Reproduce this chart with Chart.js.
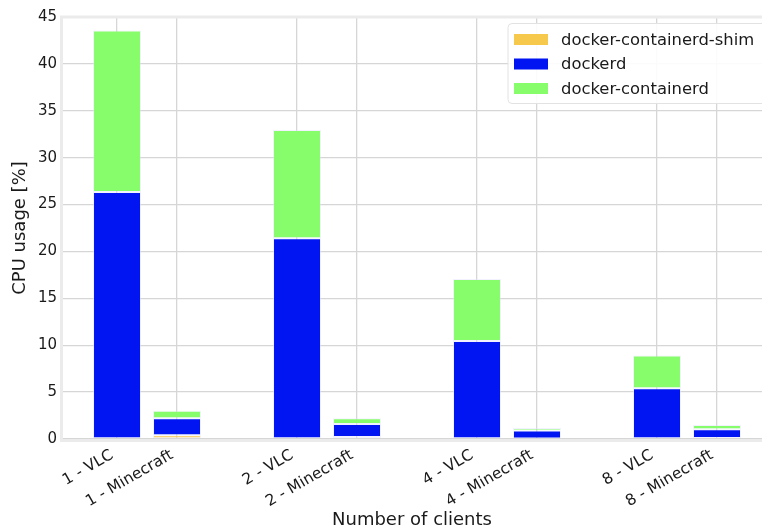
<!DOCTYPE html>
<html>
<head>
<meta charset="utf-8">
<script src="https://cdn.jsdelivr.net/npm/chart.js@4.4.1/dist/chart.umd.min.js"></script>
<style>
  html, body { margin: 0; padding: 0; background: #fff; }
  #wrap { width: 762px; height: 531px; }
</style>
</head>
<body>
<div id="wrap"><canvas id="chartCpu" width="762" height="531"></canvas></div>
<script>
const clientCounts = [1, 2, 4, 8];
const workloads = ["VLC", "Minecraft"];
const categories = ["1 - VLC", "1 - Minecraft", "2 - VLC", "2 - Minecraft",
                    "4 - VLC", "4 - Minecraft", "8 - VLC", "8 - Minecraft"];

// CPU usage [%] per process
const shimUsage       = [0.0, 0.4, 0.0, 0.2, 0.0, 0.05, 0.0, 0.1];
const dockerdUsage    = [26.35, 1.8, 21.4, 1.4, 10.45, 0.85, 5.4, 0.95];
const containerdUsage = [17.2, 0.8, 11.55, 0.6, 6.6, 0.27, 3.5, 0.45];

const yTicks = [0, 5, 10, 15, 20, 25, 30, 35, 40, 45];

// each client group takes two slots plus one empty slot as spacer
const posiciones = [];
clientCounts.forEach((c, g) => {
  workloads.forEach((w, i) => posiciones.push(g * 3 + i));
});

const FONT = "'DejaVu Sans', sans-serif";

function serie(valores) {
  return valores.map((v, i) => ({ x: posiciones[i], y: v }));
}

const datasets = [
  { label: "docker-containerd-shim", data: serie(shimUsage), backgroundColor: "#f6c84b" },
  { label: "dockerd", data: serie(dockerdUsage), backgroundColor: "#0015f2" },
  { label: "docker-containerd", data: serie(containerdUsage), backgroundColor: "#87fd6b" },
].map((d) => ({
  ...d,
  borderColor: "rgba(225,225,255,0.45)",
  borderWidth: 1,
  borderSkipped: false,
  barPercentage: 0.8,
  categoryPercentage: 1.0,
}));

// light frame around the plot area, drawn over the grid
const marco = {
  id: "marco",
  beforeDatasetsDraw(chart) {
    const { ctx, chartArea: a } = chart;
    ctx.save();
    ctx.strokeStyle = "#ebebeb";
    ctx.lineWidth = 3;
    ctx.strokeRect(a.left - 0.5, a.top, a.right - a.left + 2, a.bottom - a.top + 1.5);
    ctx.restore();
  },
};

// boxed legend in the upper right corner of the plot
const leyenda = {
  id: "leyenda",
  afterDraw(chart) {
    const ctx = chart.ctx;
    const x0 = 508, y0 = 23.5, w = 270, h = 80;
    ctx.save();
    ctx.beginPath();
    ctx.roundRect(x0, y0, w, h, 4);
    ctx.fillStyle = "rgba(255,255,255,0.9)";
    ctx.fill();
    ctx.strokeStyle = "#e2e2e2";
    ctx.lineWidth = 1;
    ctx.stroke();
    ctx.font = "16.4px " + FONT;
    ctx.textBaseline = "middle";
    chart.data.datasets.forEach((d, i) => {
      const y = 39.5 + i * 24.5;
      ctx.fillStyle = d.backgroundColor;
      ctx.fillRect(514, y - 5.5, 34, 11);
      ctx.fillStyle = "#1a1a1a";
      ctx.fillText(d.label, 561, y + 1);
    });
    ctx.restore();
  },
};

new Chart(document.getElementById("chartCpu").getContext("2d"), {
  type: "bar",
  data: { datasets },
  plugins: [marco, leyenda],
  options: {
    responsive: false,
    animation: false,
    layout: { padding: { top: 17, right: 0, left: 0, bottom: 0 } },
    plugins: { legend: { display: false }, tooltip: { enabled: false } },
    scales: {
      x: {
        type: "linear",
        stacked: true,
        min: -0.917,
        max: 10.75,
        offset: false,
        afterBuildTicks: (scale) => {
          scale.ticks = posiciones.map((p) => ({ value: p }));
        },
        afterFit: (scale) => { scale.height = 92; },
        grid: { color: "#d6d6d6", lineWidth: 1.3, offset: false, drawTicks: false },
        border: { display: false },
        ticks: {
          autoSkip: false,
          minRotation: 30,
          maxRotation: 30,
          padding: 7,
          labelOffset: -5,
          color: "#1a1a1a",
          font: { family: FONT, size: 15.5 },
          callback: (v) => categories[posiciones.indexOf(v)] ?? "",
        },
        title: {
          display: true,
          text: "Number of clients",
          color: "#1a1a1a",
          font: { family: FONT, size: 18 },
          padding: { top: 0, bottom: 0 },
        },
      },
      y: {
        stacked: true,
        min: 0,
        max: 45,
        afterBuildTicks: (scale) => {
          scale.ticks = yTicks.map((v) => ({ value: v }));
        },
        afterFit: (scale) => { scale.width = 62; },
        grid: { color: "#d6d6d6", lineWidth: 1.3, drawTicks: false },
        border: { display: false },
        ticks: {
          padding: 5,
          color: "#1a1a1a",
          font: { family: FONT, size: 15 },
        },
        title: {
          display: true,
          text: "CPU usage [%]",
          color: "#1a1a1a",
          font: { family: FONT, size: 18 },
          padding: { top: 10, bottom: 0 },
        },
      },
    },
  },
});
</script>
</body>
</html>
